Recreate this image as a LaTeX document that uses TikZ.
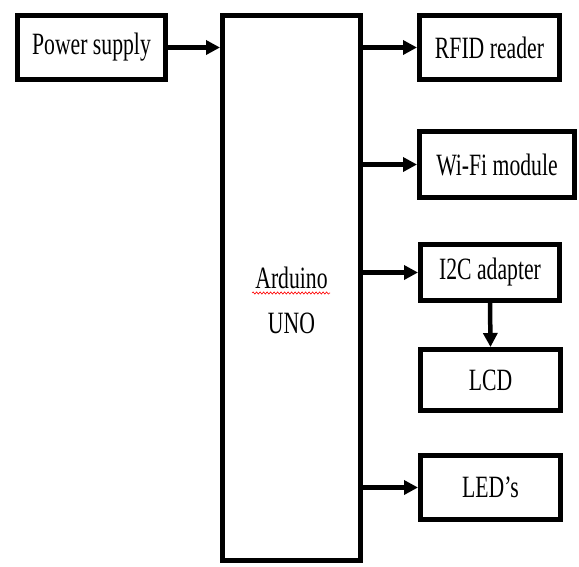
\documentclass[tikz,border=0pt]{standalone}
\usepackage{fontspec}
\setmainfont{Liberation Serif}
\usetikzlibrary{arrows.meta,decorations.pathmorphing}
\newcommand{\nar}[1]{\scalebox{0.7}[1]{#1}}
\begin{document}
\begin{tikzpicture}[x=1pt,y=-1pt,
  box/.style={draw, line width=5pt, inner sep=0pt, font=\fontsize{31}{36}\selectfont},
  lbl/.style={inner sep=0pt, align=center, font=\fontsize{31}{45}\selectfont},
  arr/.style={line width=4.5pt, -{Triangle[length=14pt,width=14pt]}},
  squig/.style={red, line width=0.6pt, decorate, decoration={snake, amplitude=1.1pt, segment length=3.5pt}}]
\useasboundingbox (0,0) rectangle (579,566);
\node[box, minimum width=148pt, minimum height=64pt] (ps) at (91.5,47.5) {\nar{Power supply}};
\node[box, minimum width=138pt, minimum height=545pt] (ard) at (291.5,288) {};
\node[lbl] (ardtxt) at (291.5,300) {\nar{Arduino}\\\nar{UNO}};
\node[box, minimum width=140pt, minimum height=64pt] (rfid) at (489.5,47.5) {\nar{RFID reader}};
\node[box, minimum width=155pt, minimum height=66pt] (wifi) at (497,164.5) {\nar{Wi-Fi module}};
\node[box, minimum width=139pt, minimum height=56pt] (i2c) at (490,272.5) {\nar{I2C adapter}};
\node[box, minimum width=140pt, minimum height=61pt] (lcd) at (490.5,380) {\nar{LCD}};
\node[box, minimum width=140pt, minimum height=64pt] (led) at (490.5,487.5) {\nar{LED’s}};
\draw[arr] (ps.east) -- (ard.west |- ps.east);
\draw[arr] (ard.east |- rfid.west) -- (rfid.west);
\draw[arr] (ard.east |- wifi.west) -- (wifi.west);
\draw[arr] (ard.east |- i2c.west) -- (i2c.west);
\draw[arr] (ard.east |- led.west) -- (led.west);
\draw[arr] (i2c.south) -- (lcd.north);
\coordinate (sqa) at (252,293);
\coordinate (sqb) at (330,293);
\draw[squig] (sqa) -- (sqb);
\end{tikzpicture}
\end{document}
